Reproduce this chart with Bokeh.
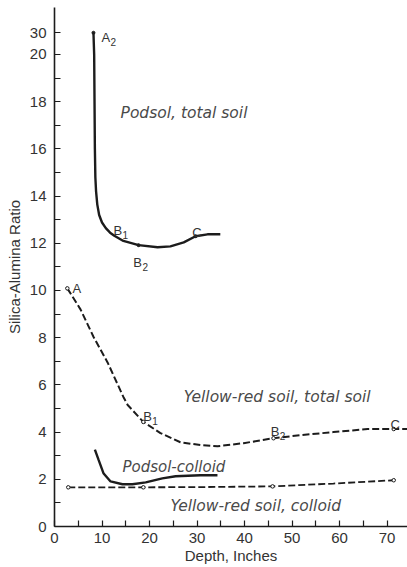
from bokeh.plotting import figure
from bokeh.models import Label, FixedTicker, Range1d
from bokeh.embed import file_html
from bokeh.resources import INLINE

# ---------------- data ----------------
# Podsol, total soil (solid)
podsol_total_depth = [8.2, 8.35, 8.5, 8.6, 8.75, 9.0, 9.4, 10.0, 10.8, 11.7, 12.6, 14.5, 17.7, 21.7, 24.4, 27.2, 29.7, 32.2, 34.9]
podsol_total_ratio = [30, 20, 16, 14.8, 14.2, 13.65, 13.2, 12.88, 12.64, 12.45, 12.32, 12.1, 11.92, 11.83, 11.87, 12.04, 12.3, 12.38, 12.38]
podsol_total_pts_depth = [8.2, 17.7, 29.7]
podsol_total_pts_ratio = [30, 11.92, 12.3]

# Yellow-red soil, total soil (dashed)
yr_total_depth = [2.7, 5.5, 8.2, 11.2, 14.5, 15.4, 18.7, 22.3, 26.5, 30.7, 34.3, 39.8, 46.1, 51.8, 58.7, 65.9, 71.4, 74.3]
yr_total_ratio = [10.09, 9.19, 8.04, 6.94, 5.49, 5.15, 4.43, 3.96, 3.57, 3.45, 3.40, 3.53, 3.74, 3.87, 4.0, 4.13, 4.13, 4.13]
yr_total_pts_depth = [2.7, 18.7, 46.1, 71.4]
yr_total_pts_ratio = [10.09, 4.43, 3.74, 4.13]

# Podsol-colloid (solid)
podsol_coll_depth = [8.5, 9.3, 10.3, 11.8, 14.3, 16.4, 19.2, 22.7, 25.5, 30.7, 34.3]
podsol_coll_ratio = [3.26, 2.81, 2.26, 1.91, 1.79, 1.79, 1.87, 2.04, 2.13, 2.17, 2.17]

# Yellow-red soil, colloid (dashed)
yr_coll_depth = [2.9, 10.0, 18.7, 30.7, 45.9, 58.7, 71.4]
yr_coll_ratio = [1.66, 1.66, 1.66, 1.67, 1.70, 1.82, 1.96]
yr_coll_pts_depth = [2.9, 18.7, 45.9, 71.4]
yr_coll_pts_ratio = [1.66, 1.66, 1.70, 1.96]

x_ticks = [0, 10, 20, 30, 40, 50, 60, 70]
x_minor = [5, 15, 25, 35, 45, 55, 65, 75]
y_ticks_real = [0, 2, 4, 6, 8, 10, 12, 14, 16, 18, 20, 30]
y_minor = [1, 3, 5, 7, 9, 11, 13, 15, 17, 19]

# broken axis above 20: values above 20 are compressed
BREAK = 20.0
COMPRESS = 0.092


def brk(v):
    return v if v <= BREAK else BREAK + (v - BREAK) * COMPRESS


LINE = "#1c1c1c"
TEXT = "#333333"
ITAL = "#4a4a4a"
FONT = "Liberation Sans"
IFONT = "DejaVu Sans"

p = figure(width=407, height=567,
           x_range=Range1d(0, 74.3), y_range=Range1d(0, 21.99),
           output_backend="svg", toolbar_location=None,
           min_border_left=54, min_border_right=0, min_border_top=7, min_border_bottom=41)
p.outline_line_color = None
p.xgrid.visible = False
p.ygrid.visible = False
p.background_fill_color = "white"
p.border_fill_color = "white"

# lines
p.line(podsol_total_depth, [brk(v) for v in podsol_total_ratio], line_color=LINE, line_width=2.4)
p.line(podsol_coll_depth, podsol_coll_ratio, line_color=LINE, line_width=2.4)
p.line(yr_total_depth, yr_total_ratio, line_color=LINE, line_width=2.0, line_dash="7 3")
p.line(yr_coll_depth, yr_coll_ratio, line_color=LINE, line_width=1.8, line_dash="7 3")

# points
p.scatter(podsol_total_pts_depth, [brk(v) for v in podsol_total_pts_ratio],
          size=3, line_color=LINE, fill_color=LINE, line_width=1)
p.scatter(yr_total_pts_depth, yr_total_pts_ratio, size=3.5, line_color=LINE, fill_color="white", line_width=1)
p.scatter(yr_coll_pts_depth, yr_coll_pts_ratio, size=3.5, line_color=LINE, fill_color="white", line_width=1)

# axes
y_tick_pos = [brk(v) for v in y_ticks_real]
p.yaxis.ticker = FixedTicker(ticks=y_tick_pos, minor_ticks=y_minor)
p.yaxis.major_label_overrides = {pos: str(v) for pos, v in zip(y_tick_pos, y_ticks_real)}
p.xaxis.ticker = FixedTicker(ticks=x_ticks, minor_ticks=x_minor)

for ax in (p.xaxis, p.yaxis):
    ax.axis_line_color = LINE
    ax.axis_line_width = 1.6
    ax.major_tick_line_color = LINE
    ax.minor_tick_line_color = LINE
    ax.major_tick_line_width = 1.2
    ax.minor_tick_line_width = 1.2
    ax.major_tick_in = 6
    ax.major_tick_out = 0
    ax.minor_tick_in = 6
    ax.minor_tick_out = 0
    ax.major_label_text_font = FONT
    ax.major_label_text_font_size = "15px"
    ax.major_label_text_color = TEXT
    ax.axis_label_text_font = FONT
    ax.axis_label_text_font_size = "15px"
    ax.axis_label_text_font_style = "normal"
    ax.axis_label_text_color = TEXT

p.xaxis.major_label_standoff = 6
p.yaxis.major_label_standoff = 8
p.xaxis.axis_label = "Depth, Inches"
p.xaxis.axis_label_standoff = 1
p.yaxis.axis_label = "Silica-Alumina Ratio"
p.yaxis.axis_label_standoff = 4

# annotations
def lab(x, y, text, size="13px", style="normal", color=TEXT, align="left", font=FONT):
    p.add_layout(Label(x=x, y=y, text=text, text_font=font, text_font_size=size,
                       text_font_style=style, text_color=color,
                       text_align=align, text_baseline="alphabetic"))


def sub_lab(x, y, letter, digit):
    lab(x, y, letter, size="13px")
    lab(x + 1.9, y - 0.2, digit, size="10px")


sub_lab(9.9, 20.72, "A", "2")
lab(13.9, 17.54, "Podsol, total soil", size="15.5px", style="italic", color=ITAL, font=IFONT)
sub_lab(12.4, 12.54, "B", "1")
sub_lab(16.6, 11.19, "B", "2")
lab(29.0, 12.46, "C")
lab(3.8, 10.08, "A")
lab(27.2, 5.47, "Yellow-red soil, total soil", size="15.5px", style="italic", color=ITAL, font=IFONT)
sub_lab(18.7, 4.66, "B", "1")
sub_lab(45.5, 4.03, "B", "2")
lab(70.7, 4.32, "C")
lab(14.3, 2.54, "Podsol-colloid", size="15px", style="italic", color=ITAL, font=IFONT)
lab(24.4, 0.85, "Yellow-red soil, colloid", size="15.5px", style="italic", color=ITAL, font=IFONT)

open("out.html", "w").write(file_html(p, INLINE))
